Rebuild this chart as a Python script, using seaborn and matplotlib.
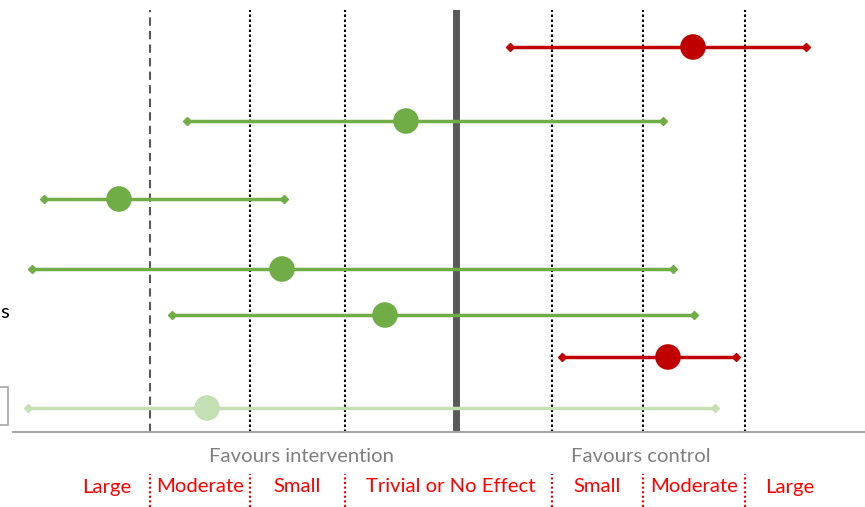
import matplotlib
matplotlib.use("Agg")
import matplotlib.pyplot as plt
import matplotlib.transforms as mtrans
from matplotlib.lines import Line2D
from matplotlib.patches import Rectangle
import pandas as pd
import seaborn as sns

# effect sizes per row (top to bottom), with confidence limits
row_y = [0.37, 1.11, 1.89, 2.59, 3.05, 3.47, 3.98]
estimate = [2.37, -0.50, -3.37, -1.74, -0.71, 2.12, -2.49]
ci_low = [0.54, -2.69, -4.12, -4.24, -2.84, 1.06, -4.28]
ci_high = [3.50, 2.07, -1.72, 2.17, 2.38, 2.80, 2.59]
direction = ["control", "intervention", "intervention", "intervention",
             "intervention", "control", "uncertain"]

# thresholds between effect size bands
thresholds = [-3.06, -2.06, -1.11, 0.96, 1.87, 2.89]
band_labels = ["Large", "Moderate", "Small", "Trivial or No Effect", "Small", "Moderate", "Large"]
band_centres = [-3.49, -2.56, -1.59, -0.05, 1.41, 2.38, 3.34]

df = pd.DataFrame({"y": row_y, "est": estimate, "lo": ci_low, "hi": ci_high, "dir": direction})
palette = {"control": "#C00000", "intervention": "#70AD47", "uncertain": "#C5E0B4"}

plt.rcParams["font.family"] = ["Lato", "DejaVu Sans"]

fig = plt.figure(figsize=(8.65, 5.07), dpi=100)
ax = fig.add_axes([13 / 865, 1 - 432 / 507, 1 - 13 / 865, 422 / 507])

# reference lines
for i, t in enumerate(thresholds):
    if i == 0:
        ax.axvline(t, color="#595959", lw=1.5, ls=(0, (4, 2.5)), zorder=1)
    else:
        ax.axvline(t, color="black", lw=1.5, ls=(0, (1.2, 1.2)), zorder=1)
ax.axvline(0, color="#595959", lw=5, zorder=1)

# confidence intervals
for _, r in df.iterrows():
    c = palette[r["dir"]]
    ax.hlines(r["y"], r["lo"], r["hi"], color=c, lw=2.5, zorder=2)
    ax.plot([r["lo"], r["hi"]], [r["y"], r["y"]], ls="none", marker="D", ms=4, color=c, zorder=2)

sns.scatterplot(data=df, x="est", y="y", hue="dir", palette=palette, s=340,
                edgecolor="none", legend=False, ax=ax, zorder=3)

ax.set_xlim(-4.43, 4.09)
ax.set_ylim(4.22, 0)
ax.set_xlabel("")
ax.set_ylabel("")
ax.set_xticks([])
ax.set_yticks([])
for side in ["top", "left", "right"]:
    ax.spines[side].set_visible(False)
ax.spines["bottom"].set_color("#A6A6A6")
ax.spines["bottom"].set_linewidth(1.5)

# labels under the axis
trans = mtrans.blended_transform_factory(ax.transData, fig.transFigure)
ax.text(-1.55, 1 - 456 / 507, "Favours intervention", transform=trans, ha="center", va="center",
        fontsize=14.6, color="#7F7F7F")
ax.text(1.85, 1 - 456 / 507, "Favours control", transform=trans, ha="center", va="center",
        fontsize=14.6, color="#7F7F7F")
for lab, xc in zip(band_labels, band_centres):
    ax.text(xc, 1 - 487 / 507, lab, transform=trans, ha="center", va="center",
            fontsize=14.6, color="#FF0000")
for t in thresholds:
    fig.add_artist(Line2D([t, t], [0, 1 - 474 / 507], transform=trans, color="#FF0000",
                          lw=1.5, ls=(0, (1, 1.2))))

# clipped pieces from the left of the original slide
fig.text(0.5 / 865, 1 - 313 / 507, "s", ha="left", va="center", fontsize=14.6, color="black")
fig.add_artist(Rectangle((-20 / 865, 1 - 425 / 507), 28 / 865, 38 / 507, transform=fig.transFigure,
                         fill=False, edgecolor="#A6A6A6", lw=1.2))

fig.savefig("out.png", dpi=100)
